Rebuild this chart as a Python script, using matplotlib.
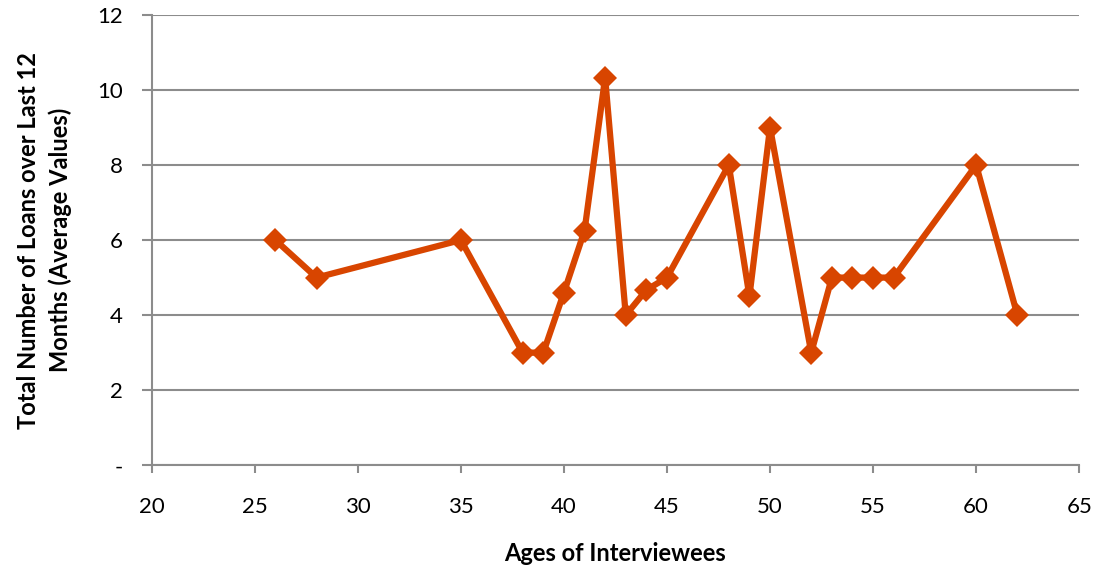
import matplotlib
matplotlib.use("Agg")
import matplotlib.pyplot as plt

# Ages of interviewees and average loans over last 12 months
ages = [26, 28, 35, 38, 39, 40, 41, 42, 43, 44, 45, 48, 49, 50, 52, 53, 54, 55, 56, 60, 62]
loans = [6, 5, 6, 3, 3, 4.6, 6.25, 10.33, 4, 4.67, 5, 8, 4.5, 9, 3, 5, 5, 5, 5, 8, 4]

x_ticks = [20, 25, 30, 35, 40, 45, 50, 55, 60, 65]
y_ticks = [0, 2, 4, 6, 8, 10, 12]
y_labels = ["-", "2", "4", "6", "8", "10", "12"]

plt.rcParams["font.family"] = ["Lato", "DejaVu Sans"]

fig = plt.figure(figsize=(10.99, 5.75), dpi=100)
ax = fig.add_axes([0.138, 0.191, 0.844, 0.783])

grid_col = "#8c8c8c"
ax.plot(ages, loans, color="#d84500", linewidth=4.5, marker="D",
        markersize=12, markeredgewidth=0, zorder=3, clip_on=False)

ax.set_xlim(20, 65)
ax.set_ylim(0, 12)
ax.set_xticks(x_ticks)
ax.set_yticks(y_ticks)
ax.set_yticklabels(y_labels)
ax.yaxis.grid(True, color=grid_col, linewidth=1.5)
ax.set_axisbelow(True)

for side in ["top", "right"]:
    ax.spines[side].set_visible(False)
for side in ["left", "bottom"]:
    ax.spines[side].set_color(grid_col)
    ax.spines[side].set_linewidth(1.5)

ax.tick_params(axis="x", direction="out", length=6, width=1.5, color=grid_col,
               labelsize=16, pad=17)
ax.tick_params(axis="y", direction="out", length=7, width=1.5, color=grid_col,
               labelsize=16, pad=14)

ax.set_xlabel("Ages of Interviewees", fontsize=17, fontweight="bold", labelpad=18)
ax.set_ylabel("Total Number of Loans over Last 12\nMonths (Average Values)",
              fontsize=17, fontweight="bold", labelpad=18, linespacing=1.4)

fig.savefig("out.png", dpi=100)
